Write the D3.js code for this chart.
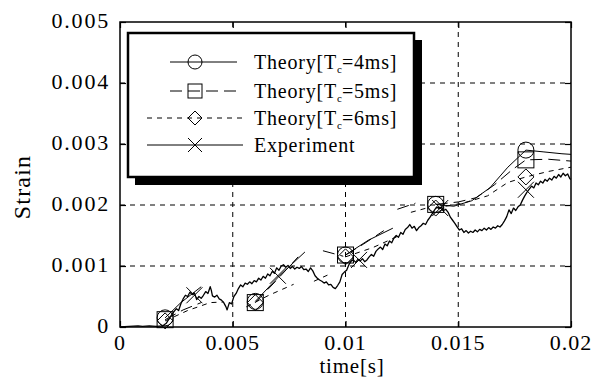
<!DOCTYPE html>
<html>
<head>
<meta charset="utf-8">
<title>Strain vs time</title>
<script src="https://cdn.jsdelivr.net/npm/d3@7"></script>
<style>
  body { margin: 0; background: #ffffff; }
  text { font-family: "Liberation Serif", "Times New Roman", serif; fill: #000; }
</style>
</head>
<body>
<svg width="596" height="381"></svg>
<script>
  // time in ms, strain in units of 1e-3
  var xTicks = [0, 5, 10, 15, 20];
  var xTickLabels = ["0", "0.005", "0.01", "0.015", "0.02"];
  var yTicks = [0, 1, 2, 3, 4, 5];
  var yTickLabels = ["0", "0.001", "0.002", "0.003", "0.004", "0.005"];

  var expTime = [0.0,0.4,0.8,1.0,1.3,1.6,1.9,2.05,2.2,2.35,2.5,2.6,2.7,2.8,2.9,3.0,3.1,3.2,3.3,3.4,3.5,3.6,3.7,3.8,3.9,4.0,4.05,4.1,4.2,4.3,4.4,4.5,4.6,4.7,4.75,4.85,4.95,5.05,5.15,5.25,5.35,5.45,5.55,5.65,5.75,5.85,5.95,6.05,6.15,6.25,6.35,6.45,6.55,6.65,6.75,6.85,6.95,7.05,7.15,7.25,7.35,7.45,7.55,7.65,7.75,7.85,7.95,8.05,8.15,8.25,8.35,8.45,8.55,8.65,8.75,8.85,8.95,9.05,9.15,9.25,9.35,9.45,9.55,9.65,9.75,9.85,9.95,10.05,10.15,10.25,10.35,10.45,10.55,10.65,10.75,10.85,10.95,11.05,11.15,11.25,11.35,11.45,11.55,11.65,11.75,11.85,11.95,12.05,12.15,12.25,12.35,12.45,12.55,12.65,12.75,12.85,12.95,13.05,13.15,13.25,13.35,13.45,13.55,13.65,13.75,13.85,13.95,14.05,14.15,14.25,14.35,14.45,14.55,14.65,14.75,14.85,14.95,15.05,15.15,15.25,15.35,15.45,15.55,15.65,15.75,15.85,15.95,16.05,16.15,16.25,16.35,16.45,16.55,16.65,16.75,16.85,16.95,17.05,17.15,17.25,17.35,17.45,17.55,17.65,17.75,17.85,17.95,18.05,18.15,18.25,18.35,18.45,18.55,18.65,18.75,18.85,18.95,19.05,19.15,19.25,19.35,19.45,19.55,19.65,19.75,19.85,19.95,20.0];
  var expStrain = [0.00,0.01,0.02,0.01,0.02,0.01,0.02,0.06,0.15,0.23,0.30,0.27,0.38,0.46,0.52,0.50,0.57,0.53,0.56,0.45,0.50,0.47,0.52,0.58,0.55,0.66,0.60,0.51,0.49,0.52,0.46,0.44,0.40,0.33,0.28,0.40,0.38,0.50,0.55,0.63,0.69,0.66,0.72,0.70,0.74,0.71,0.76,0.74,0.80,0.77,0.83,0.80,0.87,0.84,0.91,0.88,0.97,0.93,1.00,1.02,0.98,1.01,0.96,0.99,0.95,0.98,0.96,0.99,0.94,0.95,0.91,0.97,0.92,0.84,0.80,0.77,0.75,0.72,0.74,0.69,0.70,0.65,0.63,0.68,0.74,0.86,0.90,0.93,1.02,1.08,1.10,1.06,1.11,1.08,1.12,1.07,1.10,1.15,1.19,1.16,1.24,1.28,1.31,1.27,1.36,1.33,1.41,1.38,1.46,1.50,1.47,1.55,1.52,1.60,1.63,1.68,1.62,1.65,1.58,1.63,1.66,1.70,1.68,1.75,1.80,1.86,1.92,1.97,1.94,1.96,1.91,1.93,1.88,1.80,1.75,1.70,1.64,1.59,1.61,1.55,1.58,1.54,1.57,1.55,1.59,1.56,1.60,1.58,1.62,1.59,1.63,1.60,1.64,1.62,1.66,1.64,1.68,1.74,1.81,1.92,1.86,1.95,1.91,1.97,2.00,2.08,2.15,2.21,2.26,2.31,2.28,2.36,2.33,2.39,2.36,2.42,2.39,2.44,2.41,2.47,2.44,2.50,2.46,2.52,2.48,2.51,2.43,2.42];

  // theory curves, null = break between calculation windows
  var tc4Time   = [2.0,2.7,3.6,null,6.0,7.1,8.2,null,10.0,11.0,12.1,null,14.0,14.8,15.6,16.4,17.2,18.0,18.8,19.6,20.0];
  var tc4Strain = [0.15,0.40,0.66,null,0.42,0.85,1.23,null,1.18,1.42,1.62,null,2.01,1.98,2.07,2.28,2.62,2.90,2.87,2.84,2.83];
  var tc5Time   = [2.0,2.8,3.6,null,6.0,6.9,7.9,null,9.0,9.9,null,10.0,10.8,11.7,null,12.3,13.1,null,14.0,15.0,15.8,16.6,17.4,18.0,19.0,20.0];
  var tc5Strain = [0.12,0.28,0.40,null,0.40,0.75,1.15,null,1.25,1.16,null,1.18,1.36,1.58,null,1.93,2.03,null,2.01,2.05,2.12,2.33,2.58,2.74,2.75,2.72];
  var tc6Time   = [2.0,3.0,4.0,4.6,null,5.6,6.6,7.7,null,8.6,9.2,null,10.0,11.2,12.4,null,12.9,13.6,null,14.0,15.2,16.3,17.2,18.0,19.0,20.0];
  var tc6Strain = [0.10,0.27,0.40,0.41,null,0.33,0.52,0.70,null,0.75,0.85,null,1.15,1.30,1.50,null,1.88,1.95,null,1.95,2.03,2.15,2.37,2.46,2.55,2.62];

  var markTime  = [2, 6, 10, 14, 18];
  var tc4Mark   = [0.15, 0.42, 1.18, 2.01, 2.90];
  var tc5Mark   = [0.12, 0.40, 1.18, 2.01, 2.74];
  var tc6Mark   = [0.10, 0.40, 1.15, 1.95, 2.46];
  var expMarkTime   = [3.3, 7.0, 10.6, 14.2, 18.0];
  var expMarkStrain = [0.52, 0.84, 1.10, 1.95, 2.25];

  var svg = d3.select("svg");
  var plotLeft = 120, plotRight = 571, plotTop = 22, plotBottom = 327;

  var x = d3.scaleLinear().domain([0, 20]).range([plotLeft, plotRight]);
  var y = d3.scaleLinear().domain([0, 5]).range([plotBottom, plotTop]);

  // grid
  svg.selectAll(".vgrid").data(xTicks.slice(1, -1)).enter().append("line")
     .attr("x1", function(d) { return x(d); }).attr("x2", function(d) { return x(d); })
     .attr("y1", plotTop).attr("y2", plotBottom)
     .attr("stroke", "#000").attr("stroke-width", 1).attr("stroke-dasharray", "5,5");
  svg.selectAll(".hgrid").data(yTicks.slice(1, -1)).enter().append("line")
     .attr("x1", plotLeft).attr("x2", plotRight)
     .attr("y1", function(d) { return y(d); }).attr("y2", function(d) { return y(d); })
     .attr("stroke", "#000").attr("stroke-width", 1).attr("stroke-dasharray", "5,5");

  // frame and inner ticks
  svg.append("rect").attr("x", plotLeft).attr("y", plotTop)
     .attr("width", plotRight - plotLeft).attr("height", plotBottom - plotTop)
     .attr("fill", "none").attr("stroke", "#000").attr("stroke-width", 1.5);

  var xAxisB = d3.axisBottom(x).tickValues(xTicks).tickSizeInner(-6).tickSizeOuter(0).tickFormat("");
  var xAxisT = d3.axisTop(x).tickValues(xTicks).tickSizeInner(-6).tickSizeOuter(0).tickFormat("");
  var yAxisL = d3.axisLeft(y).tickValues(yTicks).tickSizeInner(-6).tickSizeOuter(0).tickFormat("");
  var yAxisR = d3.axisRight(y).tickValues(yTicks).tickSizeInner(-6).tickSizeOuter(0).tickFormat("");
  [[xAxisB, "translate(0," + plotBottom + ")"], [xAxisT, "translate(0," + plotTop + ")"],
   [yAxisL, "translate(" + plotLeft + ",0)"], [yAxisR, "translate(" + plotRight + ",0)"]].forEach(function(a) {
    var g = svg.append("g").attr("transform", a[1]).call(a[0]);
    g.select(".domain").remove();
    g.selectAll("line").attr("stroke", "#000").attr("stroke-width", 1.2);
  });

  // tick labels
  svg.selectAll(".xl").data(xTicks).enter().append("text")
     .attr("x", function(d) { return x(d); }).attr("y", 350)
     .attr("text-anchor", "middle").style("font-size", "22px").style("letter-spacing", "1px")
     .text(function(d, i) { return xTickLabels[i]; });
  svg.selectAll(".yl").data(yTicks).enter().append("text")
     .attr("x", 110).attr("y", function(d) { return y(d) + 6; })
     .attr("text-anchor", "end").style("font-size", "22px").style("letter-spacing", "1.8px")
     .text(function(d, i) { return yTickLabels[i]; });

  svg.append("text").attr("x", 352).attr("y", 373).attr("text-anchor", "middle")
     .style("font-size", "21px").style("letter-spacing", "0.8px").text("time[s]");
  svg.append("text").attr("transform", "translate(30,187) rotate(-90)")
     .attr("text-anchor", "middle").style("font-size", "24px").style("letter-spacing", "1.2px").text("Strain");

  // lines
  function lineOf(ts, ss) {
    var pts = ts.map(function(t, i) { return [t, ss[i]]; });
    return d3.line().defined(function(d) { return d[0] !== null; })
             .x(function(d) { return x(d[0]); }).y(function(d) { return y(d[1]); })(pts);
  }

  svg.append("path").attr("d", lineOf(tc4Time, tc4Strain)).attr("fill", "none")
     .attr("stroke", "#000").attr("stroke-width", 1);
  svg.append("path").attr("d", lineOf(tc5Time, tc5Strain)).attr("fill", "none")
     .attr("stroke", "#000").attr("stroke-width", 1).attr("stroke-dasharray", "12,6");
  svg.append("path").attr("d", lineOf(tc6Time, tc6Strain)).attr("fill", "none")
     .attr("stroke", "#000").attr("stroke-width", 1).attr("stroke-dasharray", "5,5");
  svg.append("path").attr("d", lineOf(expTime, expStrain)).attr("fill", "none")
     .attr("stroke", "#000").attr("stroke-width", 1.3).attr("stroke-linejoin", "round");

  // markers
  function marker(g, kind, cx, cy, s) {
    if (kind === "circle") {
      g.append("circle").attr("cx", cx).attr("cy", cy).attr("r", s)
       .attr("fill", "none").attr("stroke", "#000").attr("stroke-width", 1);
    } else if (kind === "square") {
      g.append("rect").attr("x", cx - s).attr("y", cy - s).attr("width", 2 * s).attr("height", 2 * s)
       .attr("fill", "none").attr("stroke", "#000").attr("stroke-width", 1);
    } else if (kind === "diamond") {
      g.append("path").attr("d", "M" + cx + "," + (cy - s) + "L" + (cx + s) + "," + cy + "L" + cx + "," + (cy + s) + "L" + (cx - s) + "," + cy + "Z")
       .attr("fill", "none").attr("stroke", "#000").attr("stroke-width", 1);
    } else {
      g.append("path").attr("d", "M" + (cx - s) + "," + (cy - s) + "L" + (cx + s) + "," + (cy + s) + "M" + (cx + s) + "," + (cy - s) + "L" + (cx - s) + "," + (cy + s))
       .attr("stroke", "#000").attr("stroke-width", 1);
    }
  }
  var mg = svg.append("g");
  markTime.forEach(function(t, i) {
    marker(mg, "circle", x(t), y(tc4Mark[i]), 8);
    marker(mg, "square", x(t), y(tc5Mark[i]), 8);
    marker(mg, "diamond", x(t), y(tc6Mark[i]), 8);
  });
  expMarkTime.forEach(function(t, i) {
    marker(mg, "x", x(t), y(expMarkStrain[i]), 8);
  });

  // legend
  var lg = svg.append("g");
  lg.append("rect").attr("x", 135).attr("y", 40).attr("width", 287).attr("height", 145).attr("fill", "#000");
  lg.append("rect").attr("x", 128).attr("y", 33).attr("width", 286).attr("height", 144)
    .attr("fill", "#fff").attr("stroke", "#000").attr("stroke-width", 2.5);

  var legendItems = [
    { kind: "circle", dash: null, x1: 170, x2: 237, label: "4ms" },
    { kind: "square", dash: "12,6", x1: 170, x2: 237, label: "5ms" },
    { kind: "diamond", dash: "5,5", x1: 147, x2: 243, label: "6ms" },
    { kind: "x", dash: null, x1: 147, x2: 243, label: null }
  ];
  var legendY = [62, 91, 118, 145];
  legendItems.forEach(function(it, i) {
    var ly = legendY[i];
    lg.append("line").attr("x1", it.x1).attr("x2", it.x2).attr("y1", ly).attr("y2", ly)
      .attr("stroke", "#000").attr("stroke-width", 1).attr("stroke-dasharray", it.dash);
    marker(lg, it.kind, 195, ly, 7);
    var t = lg.append("text").attr("x", 254).attr("y", ly + 7)
      .style("font-size", "20px").style("letter-spacing", "0.8px");
    if (it.label) {
      t.append("tspan").text("Theory[T");
      t.append("tspan").attr("dy", 4).style("font-size", "11px").style("letter-spacing", "0px").text("c");
      t.append("tspan").attr("dy", -4).text("=" + it.label + "]");
    } else {
      t.text("Experiment");
    }
  });
</script>
</body>
</html>
